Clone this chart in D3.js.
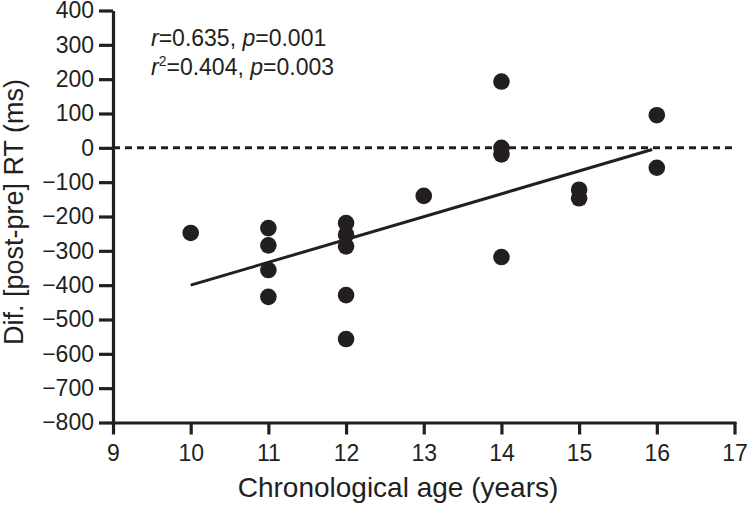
<!DOCTYPE html>
<html>
<head>
<meta charset="utf-8">
<script src="https://cdn.jsdelivr.net/npm/d3@7"></script>
<style>
  body { margin: 0; background: #fff; }
  text { font-family: "Liberation Sans", Arial, Helvetica, sans-serif; fill: #231f20; }
</style>
</head>
<body>
<div id="chart"></div>
<script>
// Data
const ages = [10, 11, 11, 11, 11, 12, 12, 12, 12, 12, 13, 14, 14, 14, 14, 15, 15, 16, 16];
const diffs = [-248, -234, -284, -356, -434, -219, -253, -287, -429, -557, -140, 193, 0, -19, -318, -122, -147, 95, -58];

// Fitted line end points
const fitAges = [10, 15.94];
const fitDiffs = [-400, -5];

const xTicks = [9, 10, 11, 12, 13, 14, 15, 16, 17];
const yTicks = [400, 300, 200, 100, 0, -100, -200, -300, -400, -500, -600, -700, -800];

const W = 749, H = 506;
const ink = "#231f20";

const svg = d3.select("#chart")
    .append("svg")
    .attr("width", W)
    .attr("height", H);

// Scales
const xScale = d3.scaleLinear().domain([9, 17]).range([113, 734.5]);
const yScale = d3.scaleLinear().domain([-800, 400]).range([422.5, 10.5]);

// Zero reference line (dashed)
svg.append("line")
    .attr("x1", xScale(9))
    .attr("x2", xScale(17))
    .attr("y1", yScale(0))
    .attr("y2", yScale(0))
    .attr("stroke", ink)
    .attr("stroke-width", 3)
    .attr("stroke-dasharray", "7,5");

// Regression line
svg.append("line")
    .attr("x1", xScale(fitAges[0]))
    .attr("x2", xScale(fitAges[1]))
    .attr("y1", yScale(fitDiffs[0]))
    .attr("y2", yScale(fitDiffs[1]))
    .attr("stroke", ink)
    .attr("stroke-width", 3);

// Points
svg.selectAll("circle.pt")
    .data(ages.map((a, i) => ({age: a, diff: diffs[i]})))
    .enter().append("circle")
    .attr("class", "pt")
    .attr("cx", d => xScale(d.age))
    .attr("cy", d => yScale(d.diff))
    .attr("r", 8.3)
    .attr("fill", ink);

// Axes
const xAxis = svg.append("g")
    .attr("transform", "translate(0," + yScale(-800) + ")")
    .call(d3.axisBottom(xScale).tickValues(xTicks).tickSize(12).tickPadding(10).tickSizeOuter(0));

const yAxis = svg.append("g")
    .attr("transform", "translate(" + xScale(9) + ",0)")
    .call(d3.axisLeft(yScale).tickValues(yTicks).tickSize(14).tickPadding(5).tickSizeOuter(0));

[xAxis, yAxis].forEach(g => {
    g.select(".domain").attr("stroke", ink).attr("stroke-width", 3.2);
    g.selectAll(".tick line").attr("stroke", ink).attr("stroke-width", 3.2);
    g.selectAll(".tick text")
        .attr("font-size", 23)
        .attr("font-family", "'Liberation Sans', Arial, sans-serif")
        .attr("fill", ink);
});
xAxis.select(".domain").attr("stroke-linecap", "square");

// Axis titles
svg.append("text")
    .attr("x", 398)
    .attr("y", 497)
    .attr("text-anchor", "middle")
    .attr("font-size", 28)
    .text("Chronological age (years)");

svg.append("text")
    .attr("transform", "translate(23,212) rotate(-90)")
    .attr("text-anchor", "middle")
    .attr("font-size", 27)
    .text("Dif. [post-pre] RT (ms)");

// Statistics annotation
const t1 = svg.append("text").attr("x", 151).attr("y", 46).attr("font-size", 23);
t1.append("tspan").attr("font-style", "italic").text("r");
t1.append("tspan").text("=0.635, ");
t1.append("tspan").attr("font-style", "italic").text("p");
t1.append("tspan").text("=0.001");

const t2 = svg.append("text").attr("x", 151).attr("y", 75).attr("font-size", 23);
t2.append("tspan").attr("font-style", "italic").text("r");
t2.append("tspan").attr("font-size", 14).attr("dy", -9).text("2");
t2.append("tspan").attr("dy", 9).text("=0.404, ");
t2.append("tspan").attr("font-style", "italic").text("p");
t2.append("tspan").text("=0.003");
</script>
</body>
</html>
